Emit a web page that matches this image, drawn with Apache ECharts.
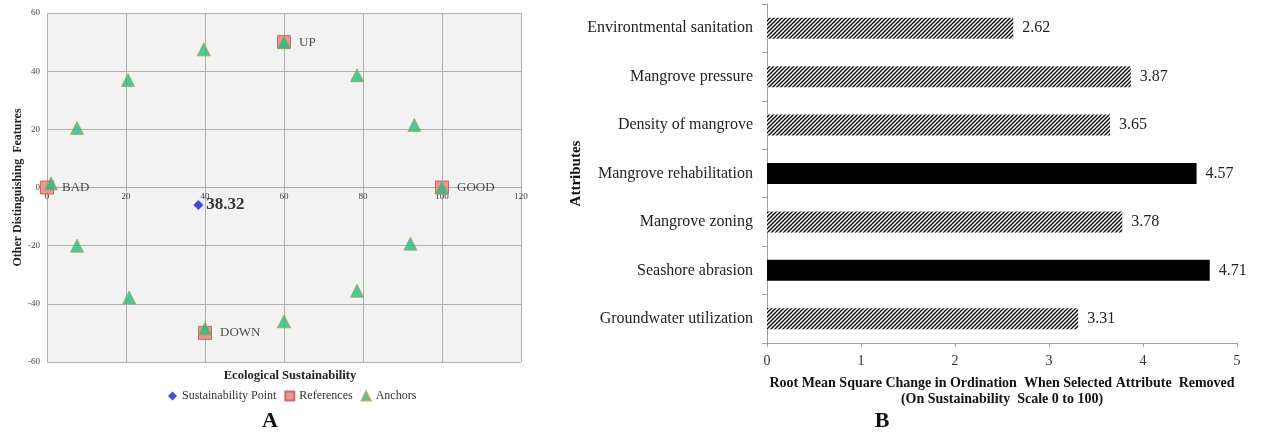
<!DOCTYPE html>
<html><head><meta charset="utf-8">
<script src="https://cdn.jsdelivr.net/npm/echarts@6/dist/echarts.min.js"></script>
<style>html,body{margin:0;padding:0;background:#fff}#c{width:1263px;height:433px}</style>
</head><body><div id="c"></div>
<script>
// Panel A data
const sustainabilityPoint = [[38.32, -6]];
const sustainabilityLabel = '38.32';
const referencePoints = [[0, 0], [100, 0], [60, 50], [40, -50]];
const referenceLabels = ['BAD', 'GOOD', 'UP', 'DOWN'];
const anchorPoints = [[1, 1.4], [7.6, 20.5], [20.5, 37], [39.7, 47.5], [60, 50], [78.5, 38.6], [93, 21.5], [100, 0],
  [92, -19.3], [78.5, -35.5], [60, -46], [40, -48.5], [20.8, -37.8], [7.6, -20]];
const xTicksA = [0, 20, 40, 60, 80, 100, 120];
const yTicksA = [-60, -40, -20, 0, 20, 40, 60];

// Panel B data
const attributes = ['Environtmental sanitation', 'Mangrove pressure', 'Density of mangrove', 'Mangrove rehabilitation',
  'Mangrove zoning', 'Seashore abrasion', 'Groundwater utilization'];
const rmsValues = [2.62, 3.87, 3.65, 4.57, 3.78, 4.71, 3.31];
const highlighted = [false, false, false, true, false, true, false];
const xTicksB = [0, 1, 2, 3, 4, 5];

// hatch pattern
const pc = document.createElement('canvas');
pc.width = 4; pc.height = 4;
const g = pc.getContext('2d');
g.fillStyle = '#fff'; g.fillRect(0, 0, 4, 4);
g.strokeStyle = '#000'; g.lineWidth = 1.3;
g.beginPath();
g.moveTo(-1, 5); g.lineTo(5, -1);
g.moveTo(-1, 1); g.lineTo(1, -1);
g.moveTo(3, 5); g.lineTo(5, 3);
g.stroke();
const hatch = { image: pc, repeat: 'repeat' };

const serif = '"Liberation Serif", "Times New Roman", serif';
const gridAHeight = 349;
const chart = echarts.init(document.getElementById('c'));
chart.setOption({
  backgroundColor: '#fff',
  animation: false,
  textStyle: { fontFamily: serif },
  legend: {
    left: 163, top: 385, itemWidth: 9, itemHeight: 9, itemGap: 8,
    textStyle: { fontFamily: serif, fontSize: 12, color: '#333' },
    data: [
      { name: 'Sustainability Point', icon: 'diamond' },
      { name: 'References', icon: 'rect' },
      { name: 'Anchors', icon: 'triangle' }
    ]
  },
  grid: [
    { left: 47, top: 13, width: 474, height: gridAHeight, show: true, backgroundColor: '#f2f2f2', borderWidth: 0 },
    { left: 767, top: 4, width: 470, height: 339 }
  ],
  xAxis: [
    {
      gridIndex: 0, type: 'value', min: xTicksA[0], max: xTicksA[xTicksA.length - 1], interval: 20,
      position: 'bottom', offset: -gridAHeight / 2,
      axisLine: { show: true, onZero: false, lineStyle: { color: '#a6a6a6' } },
      axisTick: { show: false },
      axisLabel: { fontSize: 9, color: '#404040', margin: 5 },
      splitLine: { show: true, lineStyle: { color: '#b0b0b0' } }
    },
    {
      gridIndex: 1, type: 'value', min: xTicksB[0], max: xTicksB[xTicksB.length - 1], interval: 1,
      axisLine: { show: true, lineStyle: { color: '#a0a0a0' } },
      axisTick: { show: true, length: 4, lineStyle: { color: '#a0a0a0' } },
      axisLabel: { fontSize: 14, color: '#333', margin: 11 },
      splitLine: { show: false },
      name: 'Root Mean Square Change in Ordination  When Selected Attribute  Removed\n(On Sustainability  Scale 0 to 100)',
      nameLocation: 'middle', nameGap: 32,
      nameTextStyle: { fontFamily: serif, fontWeight: 'bold', fontSize: 14, color: '#111', lineHeight: 16 }
    }
  ],
  yAxis: [
    {
      gridIndex: 0, type: 'value', min: yTicksA[0], max: yTicksA[yTicksA.length - 1], interval: 20,
      axisLine: { show: false, onZero: false },
      axisTick: { show: false },
      axisLabel: { fontSize: 9, color: '#404040', margin: 7 },
      splitLine: { show: true, lineStyle: { color: '#b0b0b0' } },
      name: 'Other Distinguishing  Features', nameLocation: 'middle', nameGap: 23,
      nameTextStyle: { fontFamily: serif, fontWeight: 'bold', fontSize: 12, color: '#222' }
    },
    {
      gridIndex: 1, type: 'category', data: attributes, inverse: true,
      axisLine: { show: true, lineStyle: { color: '#a0a0a0' } },
      axisTick: { show: true, length: 5, lineStyle: { color: '#a0a0a0' } },
      axisLabel: { fontSize: 16, color: '#222', margin: 14 },
      name: 'Attributes', nameLocation: 'middle', nameGap: 181,
      nameTextStyle: { fontFamily: serif, fontWeight: 'bold', fontSize: 15, color: '#111' }
    }
  ],
  series: [
    {
      name: 'Sustainability Point', type: 'scatter', xAxisIndex: 0, yAxisIndex: 0,
      symbol: 'diamond', symbolSize: 10, data: sustainabilityPoint,
      itemStyle: { color: '#0a1ef5' },
      label: { show: true, position: 'right', distance: 3, formatter: sustainabilityLabel,
        fontFamily: serif, fontWeight: 'bold', fontSize: 17, color: '#000' },
      z: 3
    },
    {
      name: 'References', type: 'scatter', xAxisIndex: 0, yAxisIndex: 0,
      symbol: 'rect', symbolSize: 13,
      data: referencePoints.map((p, i) => ({ value: p, name: referenceLabels[i] })),
      itemStyle: { color: '#f07a76', borderColor: '#c0504d', borderWidth: 1 },
      label: { show: true, position: 'right', distance: 8, formatter: '{b}',
        fontFamily: serif, fontSize: 13, color: '#222' },
      z: 3
    },
    {
      name: 'Anchors', type: 'scatter', xAxisIndex: 0, yAxisIndex: 0,
      symbol: 'triangle', symbolSize: 13, data: anchorPoints,
      itemStyle: { color: '#16c08a', borderColor: '#a8a848', borderWidth: 1 },
      z: 4
    },
    {
      name: 'RMS', type: 'bar', xAxisIndex: 1, yAxisIndex: 1, barWidth: 21,
      data: rmsValues.map((v, i) => ({ value: v, itemStyle: { color: highlighted[i] ? '#000' : hatch } })),
      label: { show: true, position: 'right', distance: 9, fontFamily: serif, fontSize: 16, color: '#222',
        formatter: p => p.value.toFixed(2) }
    }
  ],
  graphic: [
    { type: 'text', x: 290, y: 376, style: { text: 'Ecological Sustainability', font: 'bold 12.6px ' + serif, fill: '#222', align: 'center', verticalAlign: 'middle' } },
    { type: 'text', x: 270, y: 421, style: { text: 'A', font: 'bold 22px ' + serif, fill: '#111', align: 'center', verticalAlign: 'middle' } },
    { type: 'text', x: 882, y: 421, style: { text: 'B', font: 'bold 22px ' + serif, fill: '#111', align: 'center', verticalAlign: 'middle' } }
  ]
});
</script></body></html>
